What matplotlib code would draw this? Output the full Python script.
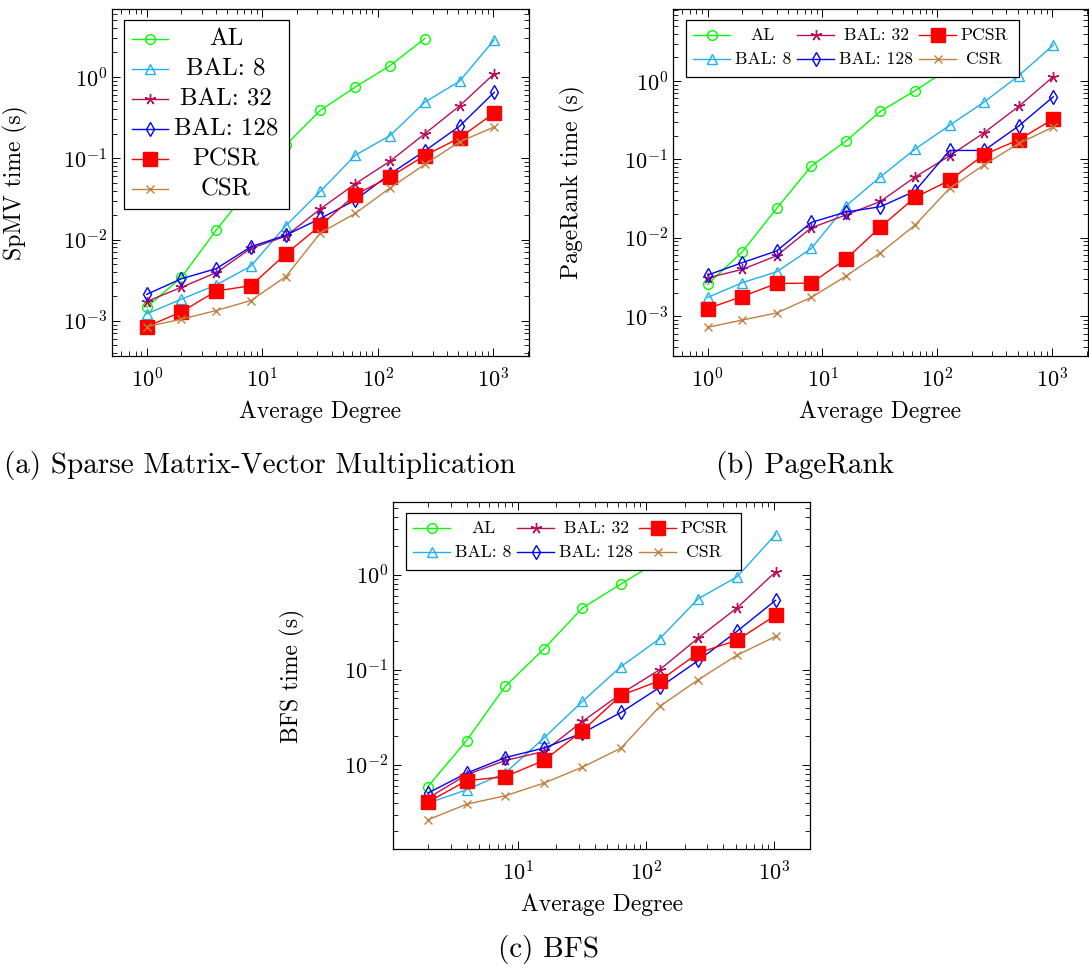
import matplotlib
matplotlib.use('Agg')
import matplotlib.pyplot as plt
from matplotlib.patches import Rectangle

plt.rcParams['font.family'] = ['cmr10', 'DejaVu Serif']
plt.rcParams['mathtext.fontset'] = 'cm'
plt.rcParams['axes.formatter.use_mathtext'] = True
plt.rcParams['axes.unicode_minus'] = False

W, H = 1089, 974

# x values (average degree)
deg = [1, 2, 4, 8, 16, 32, 64, 128, 256, 512, 1024]
deg_al = [1, 2, 4, 8, 16, 32, 64, 128, 256]
deg_bfs = [2, 4, 8, 16, 32, 64, 128, 256, 512, 1024]
deg_bfs_al = [2, 4, 8, 16, 32, 64, 128, 256]

names = ['AL', 'BAL: 8', 'BAL: 32', 'BAL: 128', 'PCSR', 'CSR']

# (a) SpMV
spmv_al = [1.47e-3, 3.43e-3, 1.31e-2, 0.045, 0.145, 0.39, 0.75, 1.38, 2.96]
spmv_bal8 = [1.22e-3, 1.85e-3, 2.77e-3, 4.73e-3, 1.48e-2, 0.0394, 0.109, 0.19, 0.489, 0.885, 2.87]
spmv_bal32 = [1.73e-3, 2.59e-3, 3.92e-3, 7.8e-3, 0.011, 0.0239, 0.0485, 0.092, 0.2, 0.44, 1.1]
spmv_bal128 = [2.12e-3, 3.3e-3, 4.39e-3, 8.17e-3, 0.0113, 0.0182, 0.0306, 0.064, 0.123, 0.248, 0.648]
spmv_pcsr = [8.5e-4, 1.29e-3, 2.33e-3, 2.71e-3, 6.64e-3, 0.0149, 0.0356, 0.059, 0.108, 0.178, 0.361]
spmv_csr = [8.5e-4, 1.05e-3, 1.34e-3, 1.78e-3, 3.5e-3, 0.0121, 0.021, 0.043, 0.084, 0.159, 0.243]

# (b) PageRank
pr_al = [2.54e-3, 6.6e-3, 0.0237, 0.082, 0.171, 0.41, 0.753, 1.45, 3.5]
pr_bal8 = [1.73e-3, 2.67e-3, 3.68e-3, 7.3e-3, 0.0254, 0.060, 0.135, 0.272, 0.54, 1.17, 2.88]
pr_bal32 = [3.08e-3, 3.94e-3, 5.9e-3, 0.0134, 0.0195, 0.0291, 0.0595, 0.111, 0.219, 0.475, 1.14]
pr_bal128 = [3.34e-3, 4.8e-3, 6.8e-3, 0.0157, 0.0213, 0.0249, 0.0394, 0.130, 0.130, 0.267, 0.63]
pr_pcsr = [1.25e-3, 1.78e-3, 2.61e-3, 2.64e-3, 5.34e-3, 0.0137, 0.0327, 0.054, 0.115, 0.178, 0.327]
pr_csr = [7.2e-4, 8.9e-4, 1.1e-3, 1.73e-3, 3.24e-3, 6.44e-3, 0.0145, 0.0427, 0.0855, 0.16, 0.259]

# (c) BFS
bfs_al = [5.9e-3, 0.018, 0.0668, 0.165, 0.446, 0.797, 1.42, 2.89]
bfs_bal8 = [3.95e-3, 5.46e-3, 8.2e-3, 0.0191, 0.0464, 0.108, 0.212, 0.559, 0.945, 2.64]
bfs_bal32 = [4.46e-3, 7.85e-3, 0.0111, 0.0138, 0.0286, 0.0559, 0.1, 0.216, 0.446, 1.07]
bfs_bal128 = [5.04e-3, 8.17e-3, 0.0119, 0.015, 0.0216, 0.0356, 0.0652, 0.125, 0.253, 0.537]
bfs_pcsr = [4.05e-3, 6.8e-3, 7.5e-3, 0.0111, 0.0228, 0.0537, 0.0766, 0.15, 0.204, 0.373]
bfs_csr = [2.64e-3, 3.85e-3, 4.72e-3, 6.41e-3, 9.45e-3, 0.015, 0.0411, 0.0785, 0.142, 0.224]

# marker styles (pgfplots look)
styles = [
    dict(color='#00ff00', marker='o', ms=7, mfc='none'),
    dict(color='#1fb0f0', marker='^', ms=7, mfc='none'),
    dict(color='#b8105a', marker=(5, 2, 0), ms=8),
    dict(color='#0000ff', marker='d', ms=7, mfc='none'),
    dict(color='#ff0000', marker='s', ms=9.5),
    dict(color='#c08040', marker='x', ms=6),
]

fig = plt.figure(figsize=(W / 100, H / 100), dpi=100)
ax_a = fig.add_axes([0.1028, 0.6345, 0.383, 0.3563])
ax_b = fig.add_axes([0.618, 0.6345, 0.381, 0.3563])
ax_c = fig.add_axes([0.361, 0.1283, 0.383, 0.3563])


def draw(ax, xs, series, ylabel, ylim, xlim):
    for (x, y), name, st in zip(zip(xs, series), names, styles):
        ax.plot(x, y, label=name, lw=1.0, mew=1.0, **st)
    ax.set_xscale('log')
    ax.set_yscale('log')
    ax.set_xlim(*xlim)
    ax.set_ylim(*ylim)
    ax.tick_params(which='both', direction='in', top=True, right=True, labelsize=16)
    ax.tick_params(which='major', length=6, width=0.7)
    ax.tick_params(which='minor', length=3.5, width=0.6)
    ax.tick_params(axis='x', pad=8)
    for s in ax.spines.values():
        s.set_linewidth(0.9)
    ax.set_xlabel('Average Degree', fontsize=17)
    ax.set_ylabel(ylabel, fontsize=17)
    ax.xaxis.set_label_coords(0.5, -0.161)
    ax.xaxis.label.set_va('center')


# pgfplots-style legend: centred labels, one marker per handle.
# positions are pixels from the top-left corner of the axes
def legend_box(ax, frame, cells, fs, hlen):
    pos = ax.get_position()
    aw, ah = pos.width * W, pos.height * H
    fx = lambda px: px / aw
    fy = lambda py: 1 - py / ah
    ax.add_patch(Rectangle((fx(frame[0]), fy(frame[3])), fx(frame[2] - frame[0]),
                           (frame[3] - frame[1]) / ah, transform=ax.transAxes,
                           facecolor='white', edgecolor='black', lw=0.9,
                           zorder=10, clip_on=False))
    for (hx, tx, ry), name, st in zip(cells, names, styles):
        ax.plot([fx(hx), fx(hx + hlen)], [fy(ry), fy(ry)], color=st['color'], lw=1.0,
                transform=ax.transAxes, clip_on=False, zorder=11)
        ax.plot([fx(hx + hlen / 2)], [fy(ry)], lw=0, mew=1.0, transform=ax.transAxes,
                clip_on=False, zorder=12, **st)
        ax.text(fx(tx), fy(ry), name, fontsize=fs, ha='center', va='center',
                transform=ax.transAxes, zorder=12)


cells_a = [(20, 114, 30 + 30 * i) for i in range(6)]
cells_bc = [(20, 90, 26), (20, 90, 50), (124, 203, 26), (124, 203, 50),
            (246, 311, 26), (246, 311, 50)]

draw(ax_a, [deg_al, deg, deg, deg, deg, deg],
     [spmv_al, spmv_bal8, spmv_bal32, spmv_bal128, spmv_pcsr, spmv_csr],
     'SpMV time (s)', (3.7e-4, 6.86), (0.5, 2048))
ax_a.yaxis.set_label_coords(-0.201, 0.5)
legend_box(ax_a, (12, 11, 177, 200), cells_a, 17.9, 36)

draw(ax_b, [deg_al, deg, deg, deg, deg, deg],
     [pr_al, pr_bal8, pr_bal32, pr_bal128, pr_pcsr, pr_csr],
     'PageRank time (s)', (3.1e-4, 8.3), (0.5, 2048))
ax_b.yaxis.set_label_coords(-0.212, 0.5)
legend_box(ax_b, (13, 11, 346, 68), cells_bc, 12.7, 37)

draw(ax_c, [deg_bfs_al] + [deg_bfs] * 5,
     [bfs_al, bfs_bal8, bfs_bal32, bfs_bal128, bfs_pcsr, bfs_csr],
     'BFS time (s)', (1.3e-3, 5.8), (1.07, 1906))
ax_c.yaxis.set_label_coords(-0.211, 0.5)
legend_box(ax_c, (13, 11, 348, 68), cells_bc, 12.7, 37)

# captions
fig.text(260 / W, 1 - 466 / H, '(a) Sparse Matrix-Vector Multiplication',
         fontsize=21, ha='center', va='center')
fig.text(805 / W, 1 - 466 / H, '(b) PageRank', fontsize=21, ha='center', va='center')
fig.text(549 / W, 1 - 950 / H, '(c) BFS', fontsize=21, ha='center', va='center')

fig.savefig('out.png', dpi=100)
